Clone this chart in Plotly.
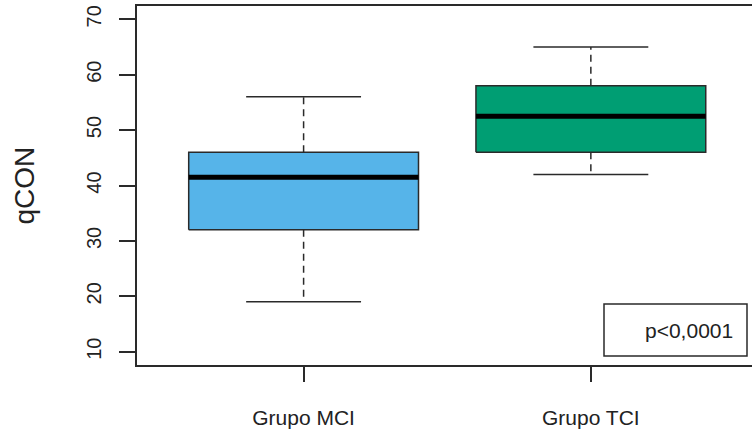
import plotly.graph_objects as go

# ---- data ----
groups = ["Grupo MCI", "Grupo TCI"]
lower_whisker = [19, 42]
q1 = [32, 46]
median = [41.5, 52.5]
q3 = [46, 58]
upper_whisker = [56, 65]
fill_colors = ["#56B4E9", "#009E73"]
y_ticks = [10, 20, 30, 40, 50, 60, 70]
p_label = "p<0,0001"

positions = [1, 2]
box_half = 0.4
staple_half = 0.2
edge = "#2a2a2a"
font_fam = "Liberation Sans, Arial, sans-serif"

fig = go.Figure()
for i, pos in enumerate(positions):
    # box body
    fig.add_trace(go.Scatter(
        x=[pos - box_half, pos + box_half, pos + box_half, pos - box_half, pos - box_half],
        y=[q1[i], q1[i], q3[i], q3[i], q1[i]],
        mode="lines", fill="toself", fillcolor=fill_colors[i],
        line=dict(color=edge, width=1.5), hoverinfo="skip", showlegend=False))
    # median
    fig.add_trace(go.Scatter(
        x=[pos - box_half, pos + box_half], y=[median[i], median[i]],
        mode="lines", line=dict(color="black", width=5), showlegend=False))
    # whiskers (dashed)
    fig.add_trace(go.Scatter(
        x=[pos, pos, None, pos, pos],
        y=[q3[i], upper_whisker[i], None, q1[i], lower_whisker[i]],
        mode="lines", line=dict(color=edge, width=1.5, dash="7px,5px"), showlegend=False))
    # staples
    fig.add_trace(go.Scatter(
        x=[pos - staple_half, pos + staple_half, None, pos - staple_half, pos + staple_half],
        y=[upper_whisker[i], upper_whisker[i], None, lower_whisker[i], lower_whisker[i]],
        mode="lines", line=dict(color=edge, width=1.5), showlegend=False))

fig.update_layout(
    width=752, height=432,
    margin=dict(l=137, r=0, t=6, b=67),
    paper_bgcolor="white", plot_bgcolor="white",
    font=dict(family=font_fam, size=20, color="#222"),
    xaxis=dict(range=[0.42, 2.561], tickvals=positions, ticktext=groups,
               showgrid=False, zeroline=False, showline=True, mirror=True,
               linecolor=edge, linewidth=1.5, ticks="outside", ticklen=15,
               tickwidth=1.5, tickcolor=edge, ticklabelstandoff=18,
               tickfont=dict(size=21)),
    yaxis=dict(range=[7.6, 72.4], tickvals=y_ticks, showgrid=False, zeroline=False,
               showline=True, linecolor=edge, linewidth=1.5, ticks="outside",
               ticklen=16, tickwidth=1.5, tickcolor=edge, tickangle=-90,
               ticklabelstandoff=10, tickfont=dict(size=20)),
    shapes=[dict(type="rect", xref="paper", yref="paper",
                 x0=(604 - 137) / 615, x1=(747 - 137) / 615,
                 y0=(365 - 356) / 359, y1=(365 - 304) / 359,
                 line=dict(color=edge, width=1.5), fillcolor="white")],
    annotations=[
        dict(text=p_label, xref="paper", yref="paper",
             x=(735 - 137) / 615, y=(365 - 330) / 359,
             xanchor="right", yanchor="middle", showarrow=False,
             font=dict(size=21)),
        dict(text="qCON", xref="paper", yref="paper",
             x=(24 - 137) / 615, y=0.5, textangle=-90,
             xanchor="center", yanchor="middle", showarrow=False,
             font=dict(size=28)),
    ],
)

fig.write_html("out.html", config={"displayModeBar": False},
               post_script="document.body.style.margin='0';")
